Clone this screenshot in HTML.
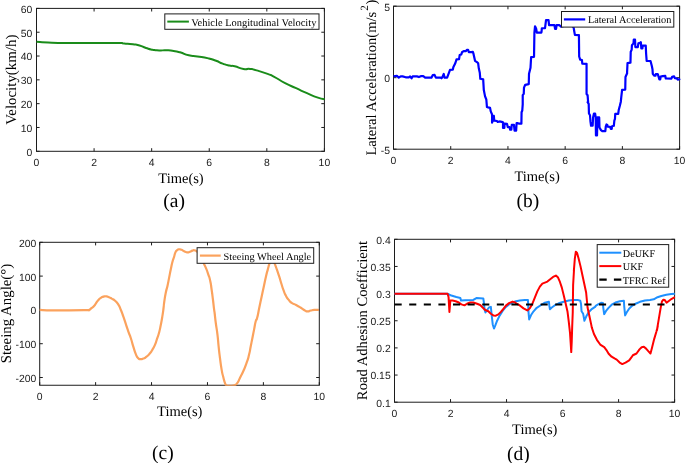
<!DOCTYPE html>
<html><head><meta charset="utf-8"><title>figure</title>
<style>
html,body{margin:0;padding:0;background:#fff;}
body{width:685px;height:463px;overflow:hidden;font-family:"Liberation Sans",sans-serif;}
svg{display:block;will-change:transform;text-rendering:geometricPrecision}
.tk{font-family:"Liberation Sans",sans-serif;font-size:10.4px;fill:#1c1c1c}
.lg{font-family:"Liberation Serif",serif;fill:#000}
.sf{font-family:"Liberation Serif",serif;fill:#000}
</style></head><body>
<svg width="685" height="463" viewBox="0 0 685 463">
<rect width="685" height="463" fill="#fff"/>
<clipPath id="ca"><rect x="35.5" y="8.4" width="289.9" height="142.9"/></clipPath>
<rect x="36.50" y="8.40" width="287.90" height="142.90" fill="none" stroke="#1c1c1c" stroke-width="1"/>
<path d="M36.50 151.30v-3.1M36.50 8.40v3.1M94.08 151.30v-3.1M94.08 8.40v3.1M151.66 151.30v-3.1M151.66 8.40v3.1M209.24 151.30v-3.1M209.24 8.40v3.1M266.82 151.30v-3.1M266.82 8.40v3.1M324.40 151.30v-3.1M324.40 8.40v3.1M36.50 151.30h3.1M324.40 151.30h-3.1M36.50 127.48h3.1M324.40 127.48h-3.1M36.50 103.67h3.1M324.40 103.67h-3.1M36.50 79.85h3.1M324.40 79.85h-3.1M36.50 56.03h3.1M324.40 56.03h-3.1M36.50 32.22h3.1M324.40 32.22h-3.1M36.50 8.40h3.1M324.40 8.40h-3.1" stroke="#1c1c1c" stroke-width="1" fill="none"/>
<text x="36.50" y="165.60" text-anchor="middle" class="tk">0</text>
<text x="94.08" y="165.60" text-anchor="middle" class="tk">2</text>
<text x="151.66" y="165.60" text-anchor="middle" class="tk">4</text>
<text x="209.24" y="165.60" text-anchor="middle" class="tk">6</text>
<text x="266.82" y="165.60" text-anchor="middle" class="tk">8</text>
<text x="324.40" y="165.60" text-anchor="middle" class="tk">10</text>
<text x="32.30" y="155.70" text-anchor="end" class="tk">0</text>
<text x="32.30" y="131.88" text-anchor="end" class="tk">10</text>
<text x="32.30" y="108.07" text-anchor="end" class="tk">20</text>
<text x="32.30" y="84.25" text-anchor="end" class="tk">30</text>
<text x="32.30" y="60.43" text-anchor="end" class="tk">40</text>
<text x="32.30" y="36.62" text-anchor="end" class="tk">50</text>
<text x="32.30" y="12.80" text-anchor="end" class="tk">60</text>
<path d="M36.50 41.80C41.63 42.10 39.47 42.33 51.90 42.70C64.33 43.07 59.20 42.83 73.80 42.90C88.40 42.97 81.10 42.87 95.70 42.90C110.30 42.93 108.10 42.83 117.60 43.00C127.10 43.17 119.10 43.00 124.20 43.40C129.30 43.80 127.80 43.50 132.90 44.20C138.00 44.90 135.13 44.23 139.50 45.50C143.87 46.77 141.63 46.60 146.00 48.00C150.37 49.40 148.20 48.90 152.60 49.70C157.00 50.50 154.80 50.20 159.20 50.40C163.60 50.60 161.43 50.17 165.80 50.30C170.17 50.43 167.57 50.13 172.30 50.80C177.03 51.47 174.50 50.80 180.00 52.30C185.50 53.80 182.97 53.93 188.80 55.30C194.63 56.67 190.93 55.37 197.50 56.40C204.07 57.43 202.30 56.93 208.50 58.40C214.70 59.87 211.37 59.07 216.10 60.80C220.83 62.53 218.30 62.00 222.70 63.60C227.10 65.20 225.30 64.70 229.30 65.60C233.30 66.50 229.97 65.20 234.70 66.30C239.43 67.40 238.37 68.03 243.50 68.90C248.63 69.77 245.73 68.40 250.10 68.90C254.47 69.40 250.77 68.73 256.60 70.40C262.43 72.07 261.73 71.77 267.60 73.90C273.47 76.03 268.37 73.73 274.20 76.80C280.03 79.87 277.80 79.30 285.10 83.10C292.40 86.90 288.80 84.83 296.10 88.20C303.40 91.57 299.73 90.07 307.00 93.20C314.27 96.33 312.07 95.57 317.90 97.60C323.73 99.63 322.30 98.73 324.50 99.30" fill="none" stroke="#1a8c1a" stroke-width="2.0" stroke-linejoin="round" stroke-linecap="butt" clip-path="url(#ca)"/>
<rect x="164.80" y="13.90" width="154.20" height="15.40" fill="#fff" stroke="#1c1c1c" stroke-width="1"/>
<path d="M167.30 21.60H188.90" stroke="#1a8c1a" stroke-width="2.0"/>
<text x="191.20" y="25.63" class="lg" style="font-size:10.46px">Vehicle Longitudinal Velocity</text>
<text x="181.00" y="182.80" text-anchor="middle" class="sf" style="font-size:14.5px">Time(s)</text>
<text transform="translate(15.90 79.70) rotate(-90)" text-anchor="middle" class="sf" style="font-size:14.9px">Velocity(km/h)</text>
<text x="174.20" y="206.80" text-anchor="middle" class="sf" style="font-size:19.5px">(a)</text>
<clipPath id="cb"><rect x="392.5" y="6.2" width="288.1" height="143.0"/></clipPath>
<rect x="393.50" y="6.20" width="286.10" height="143.00" fill="none" stroke="#1c1c1c" stroke-width="1"/>
<path d="M393.50 149.20v-3.1M393.50 6.20v3.1M450.72 149.20v-3.1M450.72 6.20v3.1M507.94 149.20v-3.1M507.94 6.20v3.1M565.16 149.20v-3.1M565.16 6.20v3.1M622.38 149.20v-3.1M622.38 6.20v3.1M679.60 149.20v-3.1M679.60 6.20v3.1M393.50 149.20h3.1M679.60 149.20h-3.1M393.50 77.70h3.1M679.60 77.70h-3.1M393.50 6.20h3.1M679.60 6.20h-3.1" stroke="#1c1c1c" stroke-width="1" fill="none"/>
<text x="393.50" y="163.50" text-anchor="middle" class="tk">0</text>
<text x="450.72" y="163.50" text-anchor="middle" class="tk">2</text>
<text x="507.94" y="163.50" text-anchor="middle" class="tk">4</text>
<text x="565.16" y="163.50" text-anchor="middle" class="tk">6</text>
<text x="622.38" y="163.50" text-anchor="middle" class="tk">8</text>
<text x="679.60" y="163.50" text-anchor="middle" class="tk">10</text>
<text x="390.00" y="153.60" text-anchor="end" class="tk">-5</text>
<text x="390.00" y="82.10" text-anchor="end" class="tk">0</text>
<text x="390.00" y="10.60" text-anchor="end" class="tk">5</text>
<path d="M393.52 76.41 L396.91 75.78 L398.79 77.66 L400.67 76.41 L402.55 76.41 L405.69 77.29 L408.83 77.29 L410.09 76.41 L411.59 78.29 L412.60 76.41 L416.99 76.41 L418.88 77.04 L420.76 76.16 L423.27 76.16 L425.15 77.66 L431.43 77.66 L432.69 75.15 L434.57 74.90 L435.83 77.66 L440.85 77.66 L441.48 78.29 L442.73 76.41 L443.74 73.90 L444.61 77.66 L447.12 77.66 L449.01 72.64 L450.01 69.88 L452.77 69.63 L453.40 66.99 L455.29 63.23 L456.54 59.46 L459.05 59.08 L459.68 55.07 L461.31 54.44 L462.19 51.93 L464.07 51.05 L465.96 51.05 L466.84 49.79 L468.09 49.79 L468.84 52.18 L471.36 52.18 L472.86 51.93 L473.52 53.90 L475.02 60.80 L476.91 62.06 L478.16 63.31 L478.79 68.34 L479.79 72.73 L480.30 78.79 L483.18 79.42 L483.81 90.09 L485.07 96.37 L486.32 99.50 L486.95 107.04 L488.13 107.44 L490.06 107.88 L490.76 111.38 L492.07 114.45 L492.07 122.77 L493.82 115.76 L494.26 120.58 L496.89 121.02 L497.76 121.89 L499.51 121.45 L501.70 121.89 L503.02 122.33 L503.02 128.02 L504.33 128.02 L504.59 123.64 L506.96 123.82 L507.83 127.15 L509.58 127.15 L510.20 129.77 L511.33 129.77 L511.77 124.96 L513.96 124.96 L514.57 130.65 L516.15 130.65 L516.59 123.20 L517.90 123.20 L518.78 123.64 L521.40 123.64 L521.58 112.26 L522.28 110.51 L522.72 104.38 L522.73 95.11 L523.74 93.85 L523.99 87.58 L525.24 84.81 L528.76 84.06 L529.01 73.77 L530.51 67.71 L531.14 57.04 L534.03 56.79 L534.41 32.55 L535.03 26.28 L536.16 28.79 L536.79 32.55 L541.31 32.55 L541.51 31.99 L541.88 28.23 L545.02 28.23 L546.03 20.07 L548.54 20.07 L549.04 25.09 L554.44 25.09 L555.07 28.85 L556.07 28.85 L556.57 25.09 L559.46 25.09 L560.72 26.59 L565.11 25.72 L572.02 25.72 L573.65 27.60 L574.15 30.74 L574.90 34.88 L578.92 35.13 L579.17 56.48 L580.18 59.61 L581.93 60.04 L582.30 63.56 L586.57 63.81 L586.57 93.94 L587.58 95.20 L588.20 102.73 L587.56 102.13 L588.70 103.88 L588.96 113.51 L590.01 115.26 L590.45 121.39 L591.06 125.77 L592.64 125.77 L593.08 117.45 L593.95 113.51 L595.09 113.51 L595.70 117.45 L595.96 135.40 L597.02 135.40 L597.45 117.45 L599.20 117.45 L599.47 127.52 L600.96 130.15 L602.27 131.20 L605.33 131.20 L605.77 126.65 L606.47 124.46 L607.35 124.90 L607.70 126.65 L610.15 126.82 L610.85 128.84 L611.73 128.84 L612.08 126.21 L613.83 125.77 L614.35 120.52 L614.97 118.77 L615.23 113.95 L618.21 113.78 L618.73 110.01 L619.78 106.07 L620.83 101.69 L621.22 97.71 L622.10 89.92 L625.24 89.55 L625.49 76.99 L627.12 73.23 L627.06 72.80 L627.52 63.14 L630.46 62.68 L630.74 51.64 L631.66 49.80 L631.94 45.20 L633.50 43.36 L633.78 39.68 L635.06 39.68 L635.34 47.04 L637.82 47.04 L638.38 43.36 L639.94 42.90 L640.86 42.26 L641.32 48.42 L642.42 48.42 L642.70 45.66 L645.74 45.66 L646.10 53.48 L646.66 60.84 L650.52 61.02 L651.83 65.94 L652.48 69.23 L652.81 73.83 L654.13 75.67 L655.44 75.67 L655.77 74.16 L657.74 74.16 L658.73 77.11 L659.38 79.41 L660.24 79.41 L660.70 76.59 L662.67 76.13 L665.30 75.93 L665.76 78.43 L671.41 78.56 L672.19 76.78 L674.03 76.32 L674.82 78.10 L676.79 78.29 L677.78 79.61 L679.42 79.21 L680.08 78.43" fill="none" stroke="#0000ff" stroke-width="2.2" stroke-linejoin="round" stroke-linecap="butt" clip-path="url(#cb)"/>
<rect x="561.50" y="11.50" width="112.30" height="15.60" fill="#fff" stroke="#1c1c1c" stroke-width="1"/>
<path d="M563.90 19.40H585.20" stroke="#0000ff" stroke-width="2.2"/>
<text x="587.90" y="23.36" class="lg" style="font-size:10.28px">Lateral Acceleration</text>
<text x="537.15" y="180.50" text-anchor="middle" class="sf" style="font-size:14.5px">Time(s)</text>
<text transform="translate(375.9 155.6) rotate(-90)" text-anchor="start" class="sf" style="font-size:14.5px">Lateral Acceleration(m/s<tspan dx="1.2" dy="-8" style="font-size:11px">2</tspan><tspan dx="0.8" dy="8">)</tspan></text>
<text x="527.90" y="206.70" text-anchor="middle" class="sf" style="font-size:19.5px">(b)</text>
<clipPath id="cc"><rect x="38.7" y="242.3" width="281.6" height="143.54999999999998"/></clipPath>
<rect x="39.70" y="242.30" width="279.60" height="142.95" fill="none" stroke="#1c1c1c" stroke-width="1"/>
<path d="M39.70 385.25v-3.1M39.70 242.30v3.1M95.62 385.25v-3.1M95.62 242.30v3.1M151.54 385.25v-3.1M151.54 242.30v3.1M207.46 385.25v-3.1M207.46 242.30v3.1M263.38 385.25v-3.1M263.38 242.30v3.1M319.30 385.25v-3.1M319.30 242.30v3.1M39.70 377.51h3.1M319.30 377.51h-3.1M39.70 343.71h3.1M319.30 343.71h-3.1M39.70 309.90h3.1M319.30 309.90h-3.1M39.70 276.10h3.1M319.30 276.10h-3.1M39.70 242.30h3.1M319.30 242.30h-3.1" stroke="#1c1c1c" stroke-width="1" fill="none"/>
<text x="39.70" y="399.55" text-anchor="middle" class="tk">0</text>
<text x="95.62" y="399.55" text-anchor="middle" class="tk">2</text>
<text x="151.54" y="399.55" text-anchor="middle" class="tk">4</text>
<text x="207.46" y="399.55" text-anchor="middle" class="tk">6</text>
<text x="263.38" y="399.55" text-anchor="middle" class="tk">8</text>
<text x="319.30" y="399.55" text-anchor="middle" class="tk">10</text>
<text x="36.30" y="381.91" text-anchor="end" class="tk">-200</text>
<text x="36.30" y="348.11" text-anchor="end" class="tk">-100</text>
<text x="36.30" y="314.30" text-anchor="end" class="tk">0</text>
<text x="36.30" y="280.50" text-anchor="end" class="tk">100</text>
<text x="36.30" y="246.70" text-anchor="end" class="tk">200</text>
<path d="M39.66 309.96C43.99 310.07 42.77 310.18 52.64 310.29C62.51 310.40 58.18 310.35 69.28 310.29C80.38 310.23 79.38 310.23 85.93 310.12C92.48 310.01 86.98 310.68 88.92 309.96C90.86 309.24 89.97 309.35 91.75 307.96C93.53 306.57 92.86 307.34 94.25 305.79C95.64 304.24 94.52 305.24 95.91 303.30C97.30 301.36 96.75 301.80 98.41 299.97C100.07 298.14 99.24 298.92 100.90 297.81C102.56 296.70 101.73 297.14 103.40 296.64C105.07 296.14 104.24 296.20 105.90 296.31C107.56 296.42 106.45 296.19 108.39 296.97C110.33 297.75 109.50 297.36 111.72 298.64C113.94 299.92 112.83 298.80 115.05 300.80C117.27 302.80 116.44 301.58 118.38 304.63C120.32 307.68 119.21 305.97 120.87 309.96C122.53 313.95 121.70 311.90 123.37 316.61C125.04 321.32 124.21 319.11 125.87 324.10C127.53 329.09 126.70 326.87 128.36 331.59C130.02 336.31 129.21 333.25 130.86 338.25C132.51 343.25 131.66 341.32 133.31 346.60C134.96 351.88 134.26 350.32 135.81 354.09C137.36 357.86 136.47 356.25 137.97 357.91C139.47 359.57 138.52 358.86 140.30 359.08C142.08 359.30 141.19 359.41 143.30 358.58C145.41 357.75 144.41 358.36 146.63 356.58C148.85 354.80 148.02 355.58 149.96 353.25C151.90 350.92 150.79 352.36 152.45 349.59C154.11 346.82 153.45 348.42 154.95 344.93C156.45 341.44 155.55 343.27 156.94 339.11C158.33 334.95 157.83 337.17 159.11 332.45C160.39 327.73 159.66 330.51 160.77 324.96C161.88 319.41 161.50 321.63 162.44 315.81C163.38 309.99 163.03 311.90 163.60 307.49C164.17 303.08 163.41 307.54 164.15 302.57C164.89 297.60 164.70 298.13 165.81 292.58C166.92 287.03 166.36 290.92 167.47 285.93C168.58 280.94 168.03 283.15 169.14 277.60C170.25 272.05 169.69 274.55 170.80 269.28C171.91 264.01 171.36 265.95 172.47 261.79C173.58 257.63 173.19 259.85 174.13 256.80C175.07 253.75 174.36 254.80 175.30 252.64C176.24 250.48 175.69 251.42 176.96 250.31C178.23 249.20 177.57 249.48 179.12 249.31C180.67 249.14 179.95 249.14 181.62 249.81C183.29 250.48 182.35 250.48 184.12 251.31C185.89 252.14 185.00 252.14 186.94 252.31C188.88 252.48 188.11 252.37 189.94 251.81C191.77 251.25 190.89 251.14 192.44 250.64C193.99 250.14 193.21 250.09 194.60 250.31C195.99 250.53 195.38 250.53 196.60 251.31C197.82 252.09 197.15 251.36 198.26 252.64C199.37 253.92 198.82 253.20 199.93 255.14C201.04 257.08 200.37 255.81 201.59 258.47C202.81 261.13 202.20 260.08 203.59 263.13C204.98 266.18 204.20 263.90 205.75 267.62C207.30 271.34 206.75 269.84 208.25 274.28C209.75 278.72 209.13 275.94 210.24 280.93C211.35 285.92 210.68 283.15 211.57 289.25C212.46 295.35 212.08 292.58 212.91 299.24C213.74 305.90 213.50 304.63 214.07 309.22C214.64 313.81 214.06 308.41 214.63 313.00C215.20 317.59 214.85 315.78 215.79 322.99C216.73 330.20 216.52 326.87 217.46 334.63C218.40 342.39 217.79 338.51 218.62 346.28C219.45 354.05 218.96 350.16 219.96 357.93C220.96 365.70 220.51 363.20 221.62 369.58C222.73 375.96 222.17 372.63 223.28 377.07C224.39 381.51 223.95 380.18 224.95 382.90C225.95 385.62 225.45 384.28 226.28 385.22C227.11 386.16 225.67 385.55 227.44 385.72C229.21 385.89 229.10 386.00 231.60 385.72C234.10 385.44 232.99 385.83 234.93 384.89C236.87 383.95 235.76 385.23 237.43 382.90C239.10 380.57 237.99 381.78 239.93 377.90C241.87 374.02 241.03 376.24 243.25 371.25C245.47 366.26 244.64 368.48 246.58 362.93C248.52 357.38 247.69 360.15 249.08 354.60C250.47 349.05 249.63 351.83 250.74 346.28C251.85 340.73 251.30 343.51 252.41 337.96C253.52 332.41 252.96 335.19 254.07 329.64C255.18 324.09 254.70 325.25 255.73 321.32C256.76 317.39 255.96 322.52 257.17 317.84C258.38 313.16 257.90 314.22 259.37 307.27C260.84 300.32 260.10 303.84 261.57 296.99C263.04 290.14 262.30 293.56 263.77 286.71C265.24 279.86 264.61 282.30 265.98 276.43C267.35 270.56 266.77 273.25 267.89 269.09C269.01 264.93 268.37 266.98 269.35 263.95C270.33 260.92 269.94 261.80 270.82 259.99C271.70 258.18 271.22 258.52 272.00 258.52C272.78 258.52 272.24 258.18 273.17 259.99C274.10 261.80 273.61 260.92 274.79 263.95C275.97 266.98 275.23 264.93 276.70 269.09C278.17 273.25 277.62 271.54 279.19 276.43C280.76 281.32 279.93 279.12 281.40 283.77C282.87 288.42 282.13 286.46 283.60 290.38C285.07 294.30 284.09 292.34 285.80 295.52C287.51 298.70 286.78 297.48 288.74 299.93C290.70 302.38 289.22 301.15 291.67 302.86C294.12 304.57 293.14 303.50 296.08 305.07C299.02 306.64 297.54 305.75 300.48 307.56C303.42 309.37 302.44 309.23 304.89 310.50C307.34 311.77 305.87 311.38 307.83 311.38C309.79 311.38 308.56 310.99 310.76 310.50C312.96 310.01 311.74 310.11 314.43 309.91C317.12 309.71 317.37 309.91 318.84 309.91" fill="none" stroke="#fba25d" stroke-width="2.2" stroke-linejoin="round" stroke-linecap="butt" clip-path="url(#cc)"/>
<rect x="197.10" y="247.70" width="116.60" height="15.60" fill="#fff" stroke="#1c1c1c" stroke-width="1"/>
<path d="M199.90 255.60H220.70" stroke="#fba25d" stroke-width="2.2"/>
<text x="223.60" y="259.58" class="lg" style="font-size:10.34px">Steeing Wheel Angle</text>
<text x="179.75" y="416.40" text-anchor="middle" class="sf" style="font-size:14.5px">Time(s)</text>
<text transform="translate(10.6 313.6) rotate(-90)" text-anchor="middle" class="sf" style="font-size:14.85px">Steeing Angle(°)</text>
<text x="162.90" y="458.60" text-anchor="middle" class="sf" style="font-size:19.5px">(c)</text>
<clipPath id="cd"><rect x="393.5" y="239.3" width="282.1" height="162.89999999999998"/></clipPath>
<rect x="394.50" y="239.30" width="280.10" height="162.90" fill="none" stroke="#1c1c1c" stroke-width="1"/>
<path d="M394.50 402.20v-3.1M394.50 239.30v3.1M450.52 402.20v-3.1M450.52 239.30v3.1M506.54 402.20v-3.1M506.54 239.30v3.1M562.56 402.20v-3.1M562.56 239.30v3.1M618.58 402.20v-3.1M618.58 239.30v3.1M674.60 402.20v-3.1M674.60 239.30v3.1M394.50 402.20h3.1M674.60 402.20h-3.1M394.50 375.05h3.1M674.60 375.05h-3.1M394.50 347.90h3.1M674.60 347.90h-3.1M394.50 320.75h3.1M674.60 320.75h-3.1M394.50 293.60h3.1M674.60 293.60h-3.1M394.50 266.45h3.1M674.60 266.45h-3.1M394.50 239.30h3.1M674.60 239.30h-3.1" stroke="#1c1c1c" stroke-width="1" fill="none"/>
<text x="394.50" y="416.50" text-anchor="middle" class="tk">0</text>
<text x="450.52" y="416.50" text-anchor="middle" class="tk">2</text>
<text x="506.54" y="416.50" text-anchor="middle" class="tk">4</text>
<text x="562.56" y="416.50" text-anchor="middle" class="tk">6</text>
<text x="618.58" y="416.50" text-anchor="middle" class="tk">8</text>
<text x="674.60" y="416.50" text-anchor="middle" class="tk">10</text>
<text x="390.70" y="406.60" text-anchor="end" class="tk">0.1</text>
<text x="390.70" y="379.45" text-anchor="end" class="tk">0.15</text>
<text x="390.70" y="352.30" text-anchor="end" class="tk">0.2</text>
<text x="390.70" y="325.15" text-anchor="end" class="tk">0.25</text>
<text x="390.70" y="298.00" text-anchor="end" class="tk">0.3</text>
<text x="390.70" y="270.85" text-anchor="end" class="tk">0.35</text>
<text x="390.70" y="243.70" text-anchor="end" class="tk">0.4</text>
<path d="M394.50 293.70 L447.53 293.69 L451.30 295.58 L456.32 297.08 L460.34 298.09 L461.09 300.60 L465.11 300.35 L473.27 299.97 L476.41 298.09 L483.31 298.46 L483.94 303.11 L484.57 309.39 L485.45 312.53 L487.08 310.02 L488.96 307.50 L490.85 306.88 L491.73 315.66 L492.73 324.45 L493.99 328.47 L495.24 325.71 L497.12 320.69 L499.64 315.66 L502.77 310.64 L505.91 306.88 L509.05 304.37 L512.82 302.48 L516.00 301.18 L519.77 300.43 L524.79 299.92 L527.93 299.92 L528.30 307.71 L528.55 312.55 L529.18 319.46 L531.07 315.07 L533.58 311.30 L536.72 307.78 L541.11 305.02 L544.88 302.69 L548.89 301.68 L549.27 305.20 L549.90 309.22 L551.78 307.46 L554.92 305.20 L558.69 303.31 L563.71 301.68 L568.73 300.43 L573.75 299.92 L577.52 299.92 L580.28 300.80 L581.03 303.94 L581.54 311.30 L583.17 313.81 L584.42 320.72 L586.31 316.32 L588.82 311.93 L591.33 309.42 L595.10 306.91 L596.00 305.59 L598.51 304.09 L601.02 302.83 L602.91 303.08 L603.28 307.85 L604.16 314.13 L606.04 310.99 L608.55 307.85 L611.69 304.72 L615.46 302.58 L619.85 301.33 L623.87 300.70 L624.25 306.60 L625.13 315.39 L626.76 312.25 L629.27 308.48 L632.41 305.59 L636.18 303.46 L639.94 301.83 L644.96 300.57 L649.99 300.07 L653.75 299.32 L657.52 297.18 L661.29 295.93 L666.31 294.67 L671.33 294.04 L674.84 293.79" fill="none" stroke="#1e90ff" stroke-width="2.0" stroke-linejoin="round" stroke-linecap="butt" clip-path="url(#cd)"/>
<path d="M394.50 293.70 L447.53 293.69 L448.54 296.83 L449.42 311.90 L450.30 300.60 L452.55 300.60 L455.69 301.23 L458.83 302.48 L461.34 304.37 L464.48 305.37 L466.99 303.74 L470.13 302.48 L473.27 302.48 L477.04 303.74 L480.18 304.99 L482.69 307.50 L485.20 310.02 L488.34 311.27 L490.85 313.78 L493.36 315.41 L495.87 315.66 L498.38 314.41 L500.89 311.90 L503.40 308.76 L505.91 305.62 L509.05 303.11 L512.57 301.60 L515.33 302.48 L516.00 303.31 L519.77 305.45 L523.53 308.34 L527.30 310.47 L529.81 308.34 L532.32 303.94 L534.83 297.66 L537.34 291.39 L539.85 286.62 L542.37 283.60 L544.88 282.60 L547.39 281.59 L549.90 279.46 L553.04 276.95 L555.92 275.57 L558.06 277.58 L559.94 281.97 L561.83 287.62 L563.71 295.15 L565.59 303.31 L567.48 311.48 L568.73 321.34 L569.99 332.64 L570.74 343.94 L571.24 352.10 L571.74 341.43 L572.25 325.11 L572.75 312.55 L573.12 285.11 L574.00 270.04 L573.83 271.15 L574.83 258.60 L575.84 251.69 L577.09 252.95 L578.60 258.60 L580.48 266.13 L582.37 274.92 L584.25 283.71 L586.13 292.50 L587.56 307.53 L589.45 316.32 L591.33 325.11 L591.75 327.34 L593.95 333.95 L596.89 339.82 L600.56 344.96 L604.23 347.17 L606.43 350.10 L608.63 353.77 L611.57 356.71 L614.51 358.47 L616.71 359.65 L619.65 362.58 L622.29 364.05 L625.52 362.58 L629.19 360.38 L631.40 357.44 L632.86 355.24 L636.53 353.48 L639.47 349.37 L641.67 347.17 L643.88 346.73 L646.08 348.63 L648.28 351.13 L650.48 353.48 L651.95 347.90 L654.16 339.09 L656.36 331.75 L657.83 325.87 L656.89 330.45 L658.15 322.92 L659.40 315.39 L660.66 307.85 L661.91 301.58 L663.17 299.69 L664.80 300.07 L666.56 302.58 L668.82 300.95 L671.33 299.07 L674.84 297.18" fill="none" stroke="#ff0000" stroke-width="2.0" stroke-linejoin="round" stroke-linecap="butt" clip-path="url(#cd)"/>
<path d="M394.60 304.50 L674.60 304.50" fill="none" stroke="#000" stroke-width="2.2" stroke-linejoin="round" stroke-linecap="butt" stroke-dasharray="7.1 7.5" clip-path="url(#cd)"/>
<rect x="597.20" y="244.60" width="71.50" height="42.60" fill="#fff" stroke="#1c1c1c" stroke-width="1"/>
<path d="M599.30 252.70H621.30" stroke="#1e90ff" stroke-width="2.0"/>
<text x="622.80" y="256.63" class="lg" style="font-size:10.2px">DeUKF</text>
<path d="M599.30 266.10H621.30" stroke="#ff0000" stroke-width="2.0"/>
<text x="622.80" y="270.03" class="lg" style="font-size:10.2px">UKF</text>
<path d="M599.30 279.70H621.30" stroke="#000" stroke-width="2.2" stroke-dasharray="7.4 7.2"/>
<text x="622.80" y="283.63" class="lg" style="font-size:10.2px">TFRC Ref</text>
<text x="534.75" y="433.90" text-anchor="middle" class="sf" style="font-size:14.5px">Time(s)</text>
<text transform="translate(366.70 320.50) rotate(-90)" text-anchor="middle" class="sf" style="font-size:14.67px">Road Adhesion Coefficient</text>
<text x="518.40" y="459.60" text-anchor="middle" class="sf" style="font-size:19.5px">(d)</text>
</svg>
</body></html>
